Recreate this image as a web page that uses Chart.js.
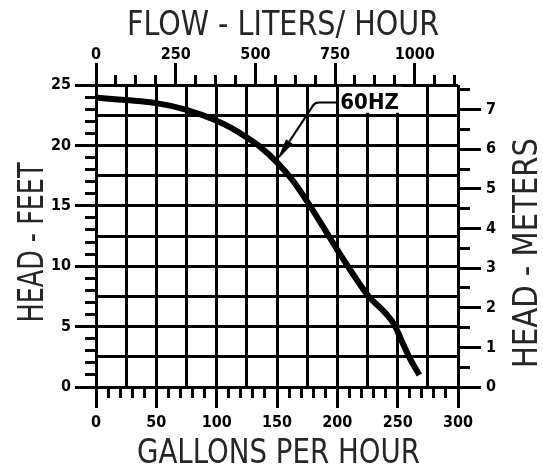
<!DOCTYPE html>
<html>
<head>
<meta charset="utf-8">
<script src="https://cdn.jsdelivr.net/npm/chart.js@4.4.1/dist/chart.umd.min.js"></script>
<style>
  html, body { margin: 0; padding: 0; background: #fff; }
  #wrap { width: 543px; height: 470px; position: relative; }
</style>
</head>
<body>
<div id="wrap"><canvas id="c"></canvas></div>
<script>
// ---- data ----
const flowGph = [0, 25, 50, 75, 100, 112, 125, 137, 150, 163, 176, 188, 200, 210, 218, 226, 240, 247, 253, 260, 268];
const headFt  = [23.95, 23.75, 23.5, 22.95, 22.05, 21.45, 20.65, 19.8, 18.6, 17.1, 15.2, 13.3, 11.35, 9.8, 8.6, 7.5, 6.1, 5.2, 3.9, 2.4, 1.0];

const gphLabels   = [0, 50, 100, 150, 200, 250, 300];
const lphLabels   = [0, 250, 500, 750, 1000];
const feetLabels  = [0, 5, 10, 15, 20, 25];
const meterLabels = [0, 1, 2, 3, 4, 5, 6, 7];

const curveLabel = '60HZ';
const titleTop = 'FLOW - LITERS/ HOUR';
const titleBottom = 'GALLONS PER HOUR';
const titleLeft = 'HEAD - FEET';
const titleRight = 'HEAD - METERS';

const L_PER_GAL = 3.785411784;
const M_PER_FT = 0.3048;
const GPH_MAX = 300, FT_MAX = 25;

const TICK_FONT = { family: "'DejaVu Sans Condensed', 'DejaVu Sans', sans-serif", size: 16, weight: 'bold' };
const TITLE_FAMILY = "'DejaVu Sans Condensed', 'DejaVu Sans', sans-serif";
const TITLE_COLOR = '#262626';

function alignPx(p, w) { const h = w / 2; return Math.round(p - h) + h; }

const tickMarks = {
  id: 'tickMarks',
  afterDraw(chart) {
    const { ctx, chartArea: a, scales } = chart;
    const x = scales.x, x2 = scales.x2, y = scales.y, y2 = scales.y2;
    ctx.save();
    ctx.strokeStyle = '#000';
    ctx.lineWidth = 3;
    ctx.lineCap = 'butt';
    ctx.beginPath();
    for (let v = 0; v <= FT_MAX + 1e-9; v += 1) {
      const p = alignPx(y.getPixelForValue(v), 3);
      const len = (v % 5 === 0) ? 21 : 11;
      ctx.moveTo(a.left, p); ctx.lineTo(a.left - len, p);
    }
    for (let v = 0; v <= GPH_MAX + 1e-9; v += 10) {
      const p = alignPx(x.getPixelForValue(v), 3);
      const len = (v % 50 === 0) ? 21 : 11;
      ctx.moveTo(p, a.bottom); ctx.lineTo(p, a.bottom + len);
    }
    for (let v = 0; v <= x2.max + 1e-9; v += 62.5) {
      const p = alignPx(x2.getPixelForValue(v), 3);
      const len = (v % 250 === 0) ? 22 : 10;
      ctx.moveTo(p, a.top); ctx.lineTo(p, a.top - len);
    }
    for (let v = 0; v <= y2.max + 1e-9; v += 0.5) {
      const p = alignPx(y2.getPixelForValue(v), 3);
      const len = (v % 1 === 0) ? 23 : 12;
      ctx.moveTo(a.right, p); ctx.lineTo(a.right + len, p);
    }
    ctx.stroke();
    ctx.restore();

    // axis titles (real text, horizontally fitted to the reference widths)
    const cx = (a.left + a.right) / 2, cy = (a.top + a.bottom) / 2;
    const drawTitle = (text, size, px, py, rot, maxW) => {
      ctx.save();
      ctx.fillStyle = TITLE_COLOR;
      ctx.font = size + 'px ' + TITLE_FAMILY;
      ctx.textAlign = 'center';
      ctx.textBaseline = 'alphabetic';
      ctx.translate(px, py);
      if (rot) ctx.rotate(rot);
      ctx.fillText(text, 0, 0, maxW);
      ctx.restore();
    };
    drawTitle(titleTop, 34, cx + 6, 35, 0, 312);
    drawTitle(titleBottom, 34, cx + 1.5, 463, 0, 283);
    drawTitle(titleLeft, 35, 43, cy + 6.5, -Math.PI / 2, 160);
    drawTitle(titleRight, 33, 537, cy + 17, -Math.PI / 2, 230);
  }
};

const curveNote = {
  id: 'curveNote',
  afterDatasetsDraw(chart) {
    const { ctx, scales: { x, y } } = chart;
    const tip = [x.getPixelForValue(150.2), y.getPixelForValue(18.8)];
    const corner = [x.getPixelForValue(181.5), y.getPixelForValue(23.55)];
    const textX = x.getPixelForValue(202.5);
    const textY = corner[1];
    ctx.save();
    ctx.font = "bold 22px 'DejaVu Sans Condensed', 'DejaVu Sans', sans-serif";
    const w = ctx.measureText(curveLabel).width;
    ctx.fillStyle = '#fff';
    const top = y.getPixelForValue(24.85), bot = y.getPixelForValue(22.7);
    ctx.fillRect(textX - 1, top, w + 4, bot - top);
    ctx.fillStyle = '#000';
    ctx.textAlign = 'left';
    ctx.textBaseline = 'middle';
    ctx.fillText(curveLabel, textX, textY + 1);
    ctx.strokeStyle = '#000';
    ctx.lineWidth = 2.2;
    ctx.lineJoin = 'round';
    const dx = tip[0] - corner[0], dy = tip[1] - corner[1];
    const d = Math.hypot(dx, dy), ux = dx / d, uy = dy / d;
    const headLen = 22, headW = 4;
    const base = [tip[0] - ux * headLen, tip[1] - uy * headLen];
    ctx.beginPath();
    ctx.moveTo(textX - 2, corner[1]);
    ctx.lineTo(corner[0] + 4, corner[1]);
    ctx.quadraticCurveTo(corner[0], corner[1], corner[0] - 2, corner[1] + 3);
    ctx.lineTo(base[0], base[1]);
    ctx.stroke();
    ctx.beginPath();
    ctx.moveTo(tip[0], tip[1]);
    ctx.lineTo(base[0] - uy * headW, base[1] + ux * headW);
    ctx.lineTo(base[0] + uy * headW, base[1] - ux * headW);
    ctx.closePath();
    ctx.fill();
    ctx.restore();
  }
};

new Chart(document.getElementById('c'), {
  type: 'line',
  data: {
    datasets: [{
      data: flowGph.map((g, i) => ({ x: g, y: headFt[i] })),
      borderColor: '#000',
      borderWidth: 6,
      pointRadius: 0,
      fill: false,
      cubicInterpolationMode: 'monotone'
    }]
  },
  options: {
    responsive: true,
    maintainAspectRatio: false,
    animation: false,
    layout: { padding: 0 },
    plugins: { legend: { display: false }, tooltip: { enabled: false } },
    scales: {
      x: {
        type: 'linear', position: 'bottom', min: 0, max: GPH_MAX,
        ticks: { stepSize: 25, autoSkip: false, maxRotation: 0, color: '#000', font: TICK_FONT, padding: 26,
                 callback: v => gphLabels.includes(v) ? String(v) : '' },
        grid: { color: '#000', lineWidth: 3, drawTicks: false },
        border: { color: '#000', width: 3 },
        afterFit: s => { s.height = 83; }
      },
      x2: {
        type: 'linear', position: 'top', min: 0, max: GPH_MAX * L_PER_GAL,
        ticks: { stepSize: 250, includeBounds: false, autoSkip: false, maxRotation: 0, color: '#000', font: TICK_FONT, padding: 21,
                 callback: v => lphLabels.includes(v) ? String(v) : '' },
        grid: { drawOnChartArea: false, drawTicks: false },
        border: { display: false },
        afterFit: s => { s.height = 85; }
      },
      y: {
        type: 'linear', position: 'left', min: 0, max: FT_MAX,
        ticks: { stepSize: 2.5, autoSkip: false, color: '#000', font: TICK_FONT, padding: 25,
                 callback: v => feetLabels.includes(v) ? String(v) : '' },
        grid: { color: '#000', lineWidth: 3, drawTicks: false },
        border: { color: '#000', width: 3 },
        afterFit: s => { s.width = 96; }
      },
      y2: {
        type: 'linear', position: 'right', min: 0, max: FT_MAX * M_PER_FT,
        ticks: { stepSize: 1, includeBounds: false, autoSkip: false, color: '#000', font: TICK_FONT, padding: 28,
                 callback: v => meterLabels.includes(v) ? String(v) : '' },
        grid: { drawOnChartArea: false, drawTicks: false },
        border: { display: false },
        afterFit: s => { s.width = 85; }
      }
    }
  },
  plugins: [tickMarks, curveNote]
});
</script>
</body>
</html>
